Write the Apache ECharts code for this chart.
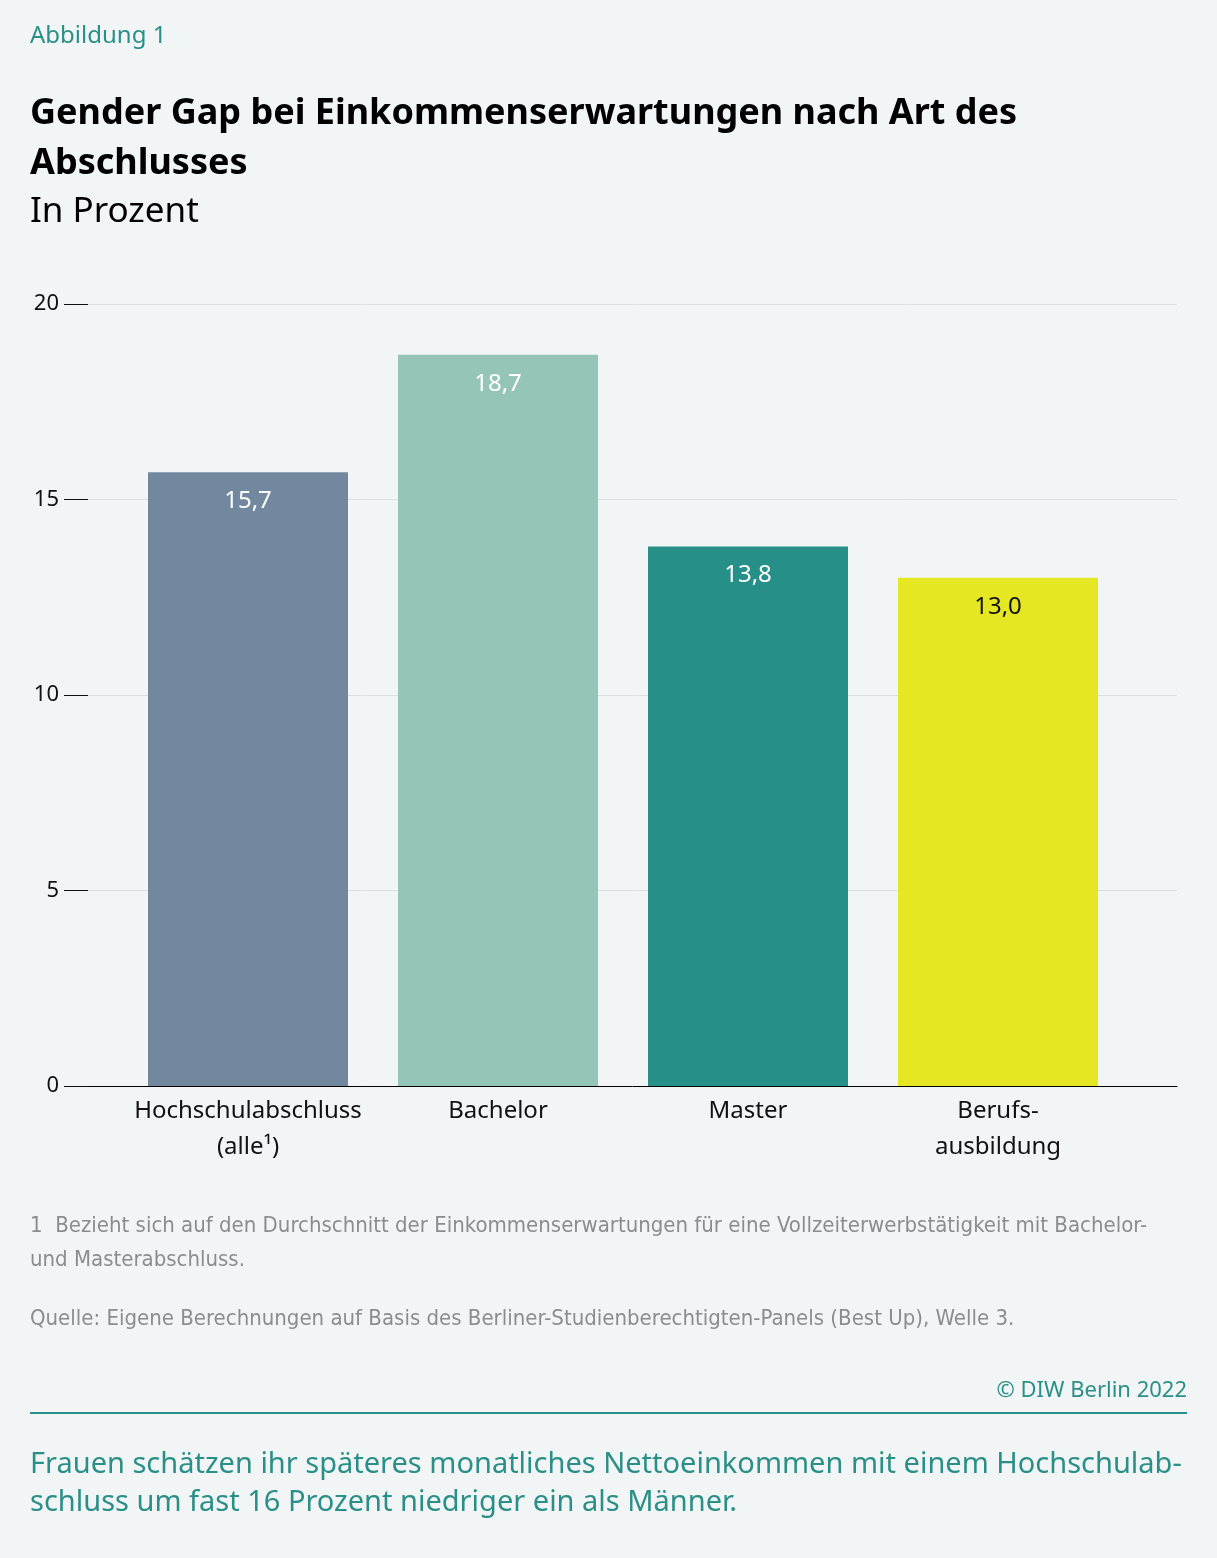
<!DOCTYPE html>
<html>
<head>
<meta charset="utf-8">
<script src="https://cdn.jsdelivr.net/npm/echarts@6/dist/echarts.min.js"></script>
<style>
  html, body { margin: 0; padding: 0; background: #f2f5f6; }
  #chart { width: 1217px; height: 1558px; }
</style>
</head>
<body>
<div id="chart"></div>
<script>
// Data
const categories = ["Hochschulabschluss\n(alle\u00b9)", "Bachelor", "Master", "Berufs-\nausbildung"];
const values = [15.7, 18.7, 13.8, 13.0];
const barColors = ["#71889f", "#95c5b9", "#268f87", "#e5e722"];
const labelColors = ["#ffffff", "#ffffff", "#ffffff", "#111111"];
const yTicks = [0, 5, 10, 15, 20];

const teal = "#2a8f86";
const sans = "'Noto Sans', 'Open Sans', sans-serif";
const narrow = "'Liberation Sans Narrow', 'DejaVu Sans Condensed', sans-serif";

const chart = echarts.init(document.getElementById("chart"));

chart.setOption({
  backgroundColor: "#f2f5f6",
  animation: false,
  title: [
    { text: "Abbildung 1", left: 30, top: 24, padding: 0, textStyle: { color: teal, fontFamily: sans, fontSize: 24, fontWeight: "normal" } },
    {
      text: "Gender Gap bei Einkommenserwartungen nach Art des\nAbschlusses",
      left: 30, top: 89, padding: 0,
      textStyle: { color: "#000", fontFamily: sans, fontSize: 36, fontWeight: "bold", lineHeight: 50 },
    },
    { text: "In Prozent", left: 30, top: 195, padding: 0, textStyle: { color: "#000", fontFamily: sans, fontSize: 35, fontWeight: "normal" } },
  ],
  grid: [
    // axis frame: grid lines and the y axis
    { left: 88, right: 40, top: 304, bottom: 472 },
    // bars
    { left: 123, width: 1000, top: 304, bottom: 472 },
  ],
  xAxis: [
    {
      gridIndex: 0, type: "category", data: [""],
      axisLine: { show: true, lineStyle: { color: "#000", width: 1 } },
      axisTick: { show: false }, axisLabel: { show: false },
    },
    {
      gridIndex: 1, type: "category", data: categories,
      axisLine: { show: false }, axisTick: { show: false },
      axisLabel: { interval: 0, color: "#111", fontFamily: sans, fontSize: 24, lineHeight: 36, margin: 7 },
    },
  ],
  yAxis: [
    {
      gridIndex: 0, type: "value", min: 0, max: 20, interval: 5,
      axisLine: { show: false },
      axisTick: { show: true, inside: false, length: 24, lineStyle: { color: "#111", width: 1 } },
      axisLabel: { color: "#111", fontFamily: sans, fontSize: 22, margin: 29, formatter: (v) => (yTicks.includes(v) ? String(v) : "") },
      splitLine: { show: true, lineStyle: { color: "#dcdfe1", width: 1 } },
    },
    { gridIndex: 1, type: "value", min: 0, max: 20, show: false },
  ],
  series: [
    {
      type: "bar", xAxisIndex: 1, yAxisIndex: 1, barWidth: 200,
      data: values.map((v, i) => ({
        value: v,
        itemStyle: { color: barColors[i] },
        label: { color: labelColors[i] },
      })),
      label: {
        show: true, position: "insideTop", distance: 17,
        fontFamily: sans, fontSize: 24,
        formatter: (p) => p.value.toFixed(1).replace(".", ","),
      },
      z: 3,
    },
  ],
  graphic: [
    {
      type: "text", left: 30, top: 1209,
      style: {
        text: "1  Bezieht sich auf den Durchschnitt der Einkommenserwartungen f\u00fcr eine Vollzeiterwerbst\u00e4tigkeit mit Bachelor-\nund Masterabschluss.",
        fill: "#8a8d8f", font: "22px " + narrow, lineHeight: 34,
      },
    },
    {
      type: "text", left: 30, top: 1308,
      style: {
        text: "Quelle: Eigene Berechnungen auf Basis des Berliner-Studienberechtigten-Panels (Best Up), Welle 3.",
        fill: "#8a8d8f", font: "22px " + narrow,
      },
    },
    {
      type: "text", right: 30, top: 1380,
      style: { text: "\u00a9 DIW Berlin 2022", fill: teal, font: "22px " + sans },
    },
    {
      type: "line", shape: { x1: 30, y1: 1413, x2: 1187, y2: 1413 },
      style: { stroke: teal, lineWidth: 2 },
    },
    {
      type: "text", left: 30, top: 1446,
      style: {
        text: "Frauen sch\u00e4tzen ihr sp\u00e4teres monatliches Nettoeinkommen mit einem Hochschulab-\nschluss um fast 16 Prozent niedriger ein als M\u00e4nner.",
        fill: teal, font: "29px " + sans, lineHeight: 38,
      },
    },
  ],
});
</script>
</body>
</html>
